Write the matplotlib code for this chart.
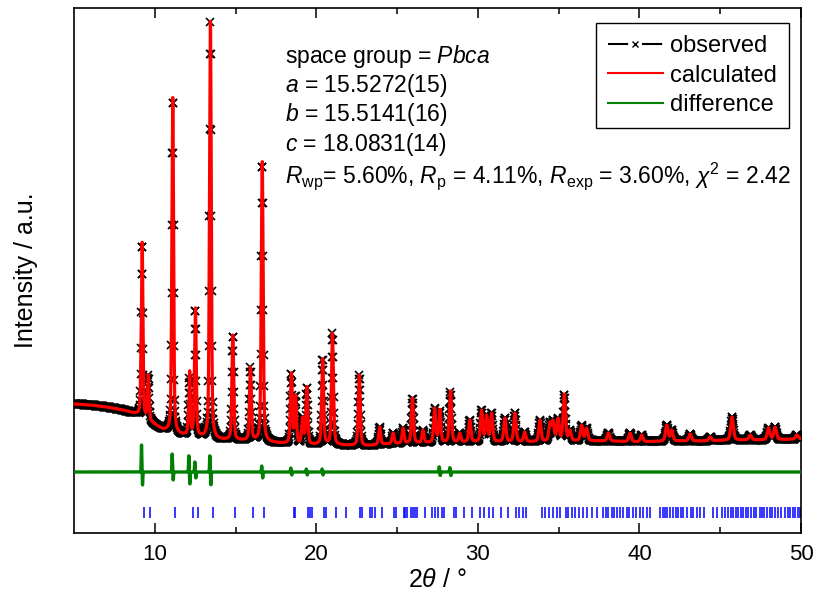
import numpy as np
import matplotlib
matplotlib.use('Agg')
import matplotlib.pyplot as plt
from matplotlib.lines import Line2D

plt.rcParams['font.family'] = 'Liberation Sans'
plt.rcParams['mathtext.fontset'] = 'custom'
plt.rcParams['mathtext.rm'] = 'Liberation Sans'
plt.rcParams['mathtext.it'] = 'Liberation Sans:italic'
plt.rcParams['lines.scale_dashes'] = False

# background level (2theta, intensity a.u.)
bg_x = [5, 6, 7, 8, 8.8, 9.5, 10, 10.5, 11.5, 12.5, 14, 16, 17.5, 19, 21, 23,
        24.5, 27, 30, 33, 36, 38, 40, 42, 44, 46, 48, 50]
bg_y = [129, 128, 126, 123, 119, 113, 108, 103, 98, 96, 93, 92, 90, 88, 88, 87,
        89, 90, 91, 91, 92, 92, 91, 92, 92, 93, 93, 94]

# reflections seen in the pattern: position and top of observed peak
peak_pos = [9.21, 9.60, 11.11, 12.14, 12.51, 13.44, 14.83, 15.92, 16.65, 18.45,
            18.71, 19.15, 19.41, 20.39, 21.00, 22.66, 23.92, 24.75, 25.37, 25.95,
            26.60, 27.33, 27.64, 28.30, 28.88, 29.50, 30.23, 30.54, 30.85, 31.67,
            32.29, 32.90, 33.84, 34.46, 34.65, 34.96, 35.35, 35.70, 36.42, 36.73,
            38.08, 39.42, 40.14, 41.69, 42.00, 43.14, 44.38, 45.73, 46.86, 47.99,
            48.40, 49.75]
peak_top = [290, 158, 437, 155, 225, 511, 198, 166, 371, 160,
            138, 116, 146, 174, 200, 158, 106, 100, 105, 135,
            103, 125, 122, 141, 100, 113, 123, 118, 120, 115,
            120, 101, 113, 111, 113, 115, 139, 103, 108, 105,
            100, 100, 98, 108, 103, 99, 96, 116, 98, 105,
            106, 98]

# misfit spikes in the difference curve: position, up, down
res_pos = [9.21, 11.11, 12.14, 12.51, 13.44, 16.65, 18.45, 19.41, 20.39, 27.64, 28.30]
res_up = [27, 18, 19, 10, 19, 6, 4, 3, 3, 6, 5]
res_dn = [13, 8, 14, 6, 15, 6, 3, 3, 3, 4, 4]
diff_offset = 61

# Pbca reflection markers
hkl_pos = [9.35, 9.72, 11.27, 12.35, 12.70, 13.63, 14.99, 16.07, 16.79, 18.61,
           18.70, 19.48, 19.58, 19.72, 20.47, 20.57, 21.19, 21.86, 22.72, 22.82,
           23.34, 23.47, 23.61, 24.09, 24.81, 24.96, 25.41, 25.51, 25.61, 25.89,
           25.99, 26.13, 26.23, 26.71, 27.19, 27.33, 27.54, 27.75, 27.89, 28.51,
           28.63, 29.15, 29.61, 30.16, 30.37, 30.70, 30.95, 31.40, 31.88, 32.35,
           32.56, 32.81, 32.97, 33.94, 34.15, 34.42, 34.66, 34.88, 35.08, 35.45,
           35.60, 35.80, 36.01, 36.28, 36.49, 36.77, 37.05, 37.36, 37.77, 37.93,
           38.08, 38.29, 38.43, 38.63, 38.80, 39.01, 39.21, 39.38, 39.59, 39.79,
           40.04, 40.21, 40.46, 40.66, 41.28, 41.45, 41.59, 41.73, 41.90, 42.10,
           42.27, 42.41, 42.56, 42.72, 42.93, 43.18, 43.34, 43.59, 43.76, 44.01,
           44.58, 44.83, 45.10, 45.31, 45.51, 45.66, 45.82, 45.99, 46.13, 46.28,
           46.44, 46.61, 46.75, 46.90, 47.06, 47.23, 47.44, 47.58, 47.73, 47.89,
           48.06, 48.20, 48.41, 48.55, 48.76, 49.03, 49.17, 49.34, 49.51, 49.65,
           49.79, 49.96]


def pv(dx, w, eta=0.4):
    g = np.exp(-4 * np.log(2) * (dx / w) ** 2)
    l = 1 / (1 + 4 * (dx / w) ** 2)
    return eta * l + (1 - eta) * g


def fwhm(p):
    return 0.11 + 0.002 * (p - 5)


peak_pos_a = np.array(peak_pos)
widths = fwhm(peak_pos_a)
need = np.array(peak_top) - np.interp(peak_pos_a, bg_x, bg_y)
A = pv(peak_pos_a[:, None] - peak_pos_a[None, :], widths[None, :])
heights = np.clip(np.linalg.solve(A, need), 0, None)


def model(x):
    y = np.interp(x, bg_x, bg_y)
    for p, h, w in zip(peak_pos_a, heights, widths):
        y = y + h * pv(x - p, w)
    return y


def misfit(x):
    r = np.zeros_like(x)
    for p, u, d in zip(res_pos, res_up, res_dn):
        r += u * np.exp(-((x - p + 0.03) / 0.025) ** 2)
        r -= d * np.exp(-((x - p - 0.03) / 0.025) ** 2)
    return r


x_obs = np.arange(5, 50.001, 0.02)
x_calc = np.arange(5, 50.001, 0.004)
y_obs = model(x_obs)
y_calc = model(x_calc) - misfit(x_calc)
y_diff = misfit(x_obs) + diff_offset

fig = plt.figure(figsize=(8.17, 5.98), dpi=100)
ax = fig.add_axes([74 / 817, 65 / 598, 727 / 817, 525 / 598])

ax.plot(x_obs, y_obs, 'x', color='black', ms=5.5, mew=1.2, zorder=2)
ax.plot(x_calc, y_calc, color='#ff0000', lw=2.3, zorder=3)
ax.plot(x_obs, y_diff, color='#008000', lw=2.4, zorder=3)
ax.vlines(hkl_pos, 15, 26, color='#0000ff', lw=1.1)

ax.set_xlim(5, 50)
ax.set_ylim(0, 525)
ax.set_yticks([])
ax.set_xticks([10, 20, 30, 40, 50])
ax.set_xticks([15, 25, 35, 45], minor=True)
ax.tick_params(axis='x', which='both', direction='in', top=True, labelsize=16, pad=8)
ax.tick_params(axis='x', which='major', length=7, width=1.1)
ax.tick_params(axis='x', which='minor', length=4.5, width=1.1)
for s in ax.spines.values():
    s.set_linewidth(1.2)

ax.set_xlabel('2$\\theta$ / °', fontsize=18, labelpad=2)
ax.set_ylabel('Intensity / a.u.', fontsize=18, labelpad=26)

lines = ['space group = $Pbca$',
         '$a$ = 15.5272(15)',
         '$b$ = 15.5141(16)',
         '$c$ = 18.0831(14)',
         '$R_{\\mathrm{wp}}$= 5.60%, $R_{\\mathrm{p}}$ = 4.11%, '
         '$R_{\\mathrm{exp}}$ = 3.60%, $\\chi^2$ = 2.42']
line_y = [56, 85.5, 115, 144.5, 176]
for t, yp in zip(lines, line_y):
    ax.text((285 - 74) / 727, (533 - yp) / 525, t, transform=ax.transAxes,
            fontsize=16.5, va='center', ha='left')

handles = [Line2D([], [], color='black', lw=1.5, marker='x', ms=4, mew=1,
                  dashes=(14.5, 10)),
           Line2D([], [], color='#ff0000', lw=1.5),
           Line2D([], [], color='#008000', lw=1.5)]
leg = ax.legend(handles, ['observed', 'calculated', 'difference'],
                loc='upper right', bbox_to_anchor=((789 - 74) / 727, (533 - 23) / 525),
                fontsize=17, frameon=True, fancybox=False, framealpha=1,
                edgecolor='black', handlelength=2.35, handletextpad=0.3,
                labelspacing=0.33, borderpad=0.5, borderaxespad=0, numpoints=1)
leg.get_frame().set_linewidth(1.0)

fig.savefig('out.png', dpi=100)
